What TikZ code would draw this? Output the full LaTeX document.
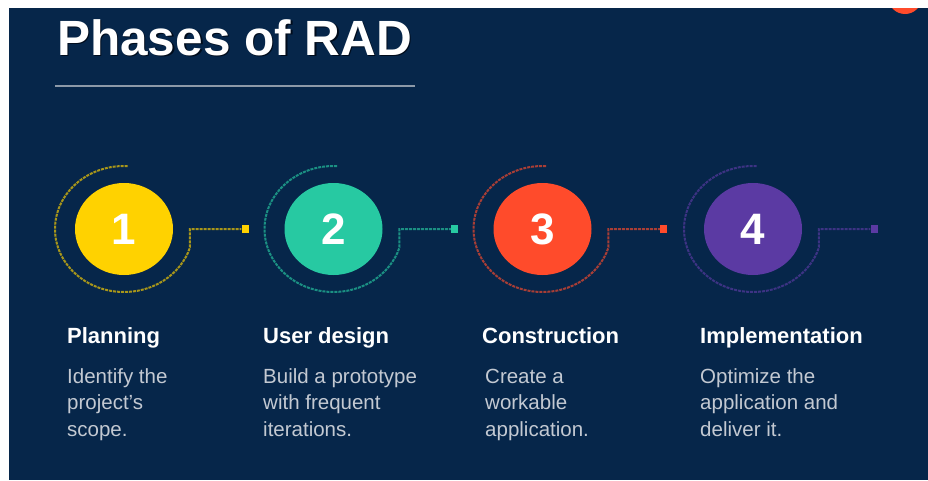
\documentclass[tikz,border=0pt]{standalone}
\usepackage{fontspec}
\setmainfont{Liberation Sans}
\usetikzlibrary{shapes.geometric}
\definecolor{bg}{HTML}{06264A}
\definecolor{cyel}{HTML}{FFD200}
\definecolor{cteal}{HTML}{27C9A2}
\definecolor{cred}{HTML}{FF4B2B}
\definecolor{cpur}{HTML}{5B3AA3}
\definecolor{rulegray}{HTML}{8C99A8}
\definecolor{bodygray}{HTML}{C3C9D2}
\definecolor{shadowc}{HTML}{000C1C}
\tikzset{
  phasedot/.style={ellipse, fill=#1, minimum width=98pt, minimum height=92pt, inner sep=0pt,
    text=white, font=\fontsize{44}{44}\selectfont\bfseries},
  orbit/.style={draw=#1!65!bg, line width=2pt, dash pattern=on 3pt off 1pt},
  tipbox/.style={rectangle, fill=#1, minimum width=7pt, minimum height=8pt, inner sep=0pt},
  headtxt/.style={anchor=base west, inner sep=0pt, text=white, font=\fontsize{22}{26}\selectfont\bfseries},
  bodytxt/.style={anchor=base west, inner sep=0pt, text=bodygray, font=\fontsize{20.5}{26}\selectfont},
}
\begin{document}
\begin{tikzpicture}[x=1pt,y=-1pt]
\fill[white] (0,0) rectangle (928,480);
\useasboundingbox (0,0) rectangle (928,480);
\begin{scope}
  \clip (9,8) rectangle (928,480);
  \fill[bg] (9,8) rectangle (928,480);
  \fill[cred] (905,-3) circle (17);
\end{scope}
% title
\node[anchor=base west, inner sep=0pt, text=shadowc, font=\fontsize{49.5}{50}\selectfont\bfseries] (titleshadow) at (58.5,56.5) {Phases of RAD};
\node[anchor=base west, inner sep=0pt, text=white, draw=none, font=\fontsize{49.5}{50}\selectfont\bfseries] (title) at (57,55) {Phases of RAD};
\coordinate (ruleL) at (55,86);
\coordinate (ruleR) at (415,86);
\draw[rulegray, line width=2pt] (ruleL) -- (ruleR);
% phases
\foreach \i/\cx/\col/\num in {1/124/cyel/1, 2/333.5/cteal/2, 3/542.5/cred/3, 4/753/cpur/4}{
  \node[phasedot=\col] (c\i) at (\cx,229) {\num};
  \node[tipbox=\col] (t\i) at (\cx+121,229) {};
  \draw[orbit=\col] (c\i.center) ++(273:69 and 63)
    arc[start angle=273, end angle=17, x radius=69, y radius=63] |- (t\i.west);
}
% headings
\node[headtxt] (h1) at (67,343) {Planning};
\node[headtxt] (h2) at (263,343) {User design};
\node[headtxt] (h3) at (482,343) {Construction};
\node[headtxt] (h4) at (700,343) {Implementation};
% body
\node[bodytxt] (b11) at (67,383) {Identify the};
\node[bodytxt] (b12) at (67,409.5) {project's};
\node[bodytxt] (b13) at (67,436) {scope.};
\node[bodytxt] (b21) at (263,383) {Build a prototype};
\node[bodytxt] (b22) at (263,409.5) {with frequent};
\node[bodytxt] (b23) at (263,436) {iterations.};
\node[bodytxt] (b31) at (485,383) {Create a};
\node[bodytxt] (b32) at (485,409.5) {workable};
\node[bodytxt] (b33) at (485,436) {application.};
\node[bodytxt] (b41) at (700,383) {Optimize the};
\node[bodytxt] (b42) at (700,409.5) {application and};
\node[bodytxt] (b43) at (700,436) {deliver it.};
\end{tikzpicture}
\end{document}
